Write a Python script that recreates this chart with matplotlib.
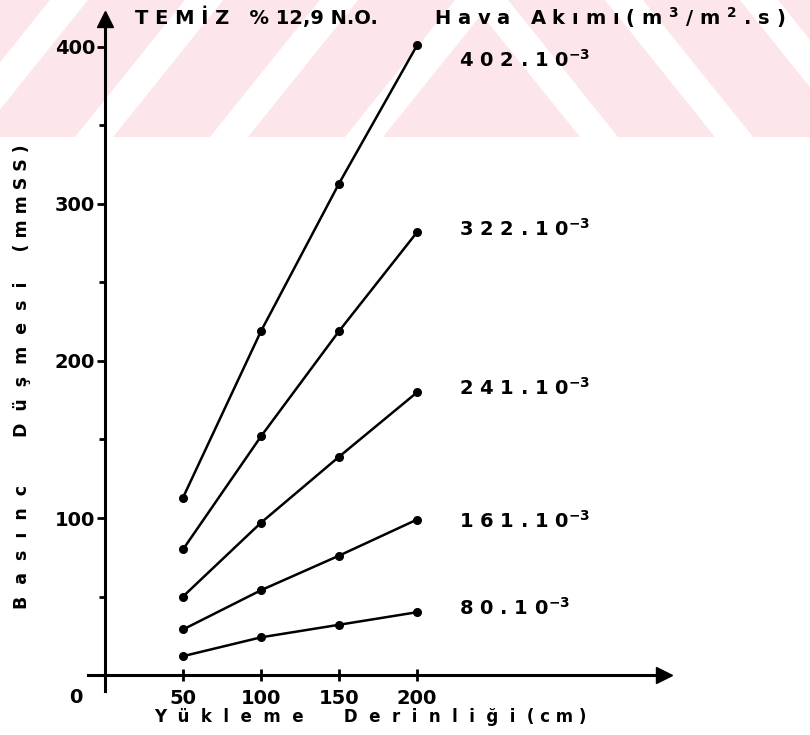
import numpy as np
import matplotlib
matplotlib.use("Agg")
import matplotlib.pyplot as plt
from matplotlib.patches import Polygon, Rectangle

# data
depth = [50, 100, 150, 200]
flow_labels = ["4 0 2", "3 2 2", "2 4 1", "1 6 1", "8 0"]
drop_402 = [113, 219, 313, 401]
drop_322 = [80, 152, 219, 282]
drop_241 = [50, 97, 139, 180]
drop_161 = [29, 54, 76, 99]
drop_80 = [12, 24, 32, 40]
series = [drop_402, drop_322, drop_241, drop_161, drop_80]
label_y = [392, 284, 183, 98, 43]

fig = plt.figure(figsize=(8.1, 7.35), dpi=100)

# faint pink watermark band at the top of the scan
wm = fig.add_axes([0, 0, 1, 1], zorder=0)
wm.set_xlim(0, 810)
wm.set_ylim(735, 0)
wm.axis("off")
pink = "#fce6ea"
wm.add_patch(Rectangle((0, 0), 810, 137, color=pink, lw=0))
for x0 in [-60, 75, 210, 345]:
    wm.add_patch(Polygon([(x0, 137), (x0 + 38, 137), (x0 + 148, 0), (x0 + 110, 0)],
                         color="white", lw=0))
for x0 in [470, 605, 740]:
    wm.add_patch(Polygon([(x0, 0), (x0 + 38, 0), (x0 + 148, 137), (x0 + 110, 137)],
                         color="white", lw=0))

ax = fig.add_axes([0, 0, 1, 1], zorder=1)
ax.patch.set_alpha(0)
ax.set_xlim(-67.3, 451.9)
ax.set_ylim(-38.2, 429.9)

for s in ["top", "right"]:
    ax.spines[s].set_visible(False)
ax.spines["left"].set_position(("data", 0))
ax.spines["bottom"].set_position(("data", 0))
ax.spines["left"].set_bounds(-10, 412)
ax.spines["bottom"].set_bounds(-11, 352)
ax.spines["left"].set_linewidth(2.2)
ax.spines["bottom"].set_linewidth(2.2)
ax.plot([0], [418], marker="^", color="black", ms=11, clip_on=False)
ax.plot([358], [0], marker=">", color="black", ms=11, clip_on=False)

ax.set_yticks([100, 200, 300, 400])
ax.set_yticks([50, 150, 250, 350], minor=True)
ax.set_xticks(depth)
ax.tick_params(axis="y", which="major", direction="out", length=6, width=2,
               labelsize=14, pad=1)
ax.tick_params(axis="y", which="minor", direction="out", length=4, width=2)
ax.tick_params(axis="x", direction="inout", length=8, width=2, labelsize=14, pad=6)
for t in ax.get_xticklabels() + ax.get_yticklabels():
    t.set_fontweight("bold")
ax.text(-19, -14, "0", fontsize=14, fontweight="bold", ha="center", va="center")

for vals, lab, ly in zip(series, flow_labels, label_y):
    ax.plot(depth, vals, color="black", lw=1.8, marker="o", ms=5.5)
    ax.text(227, ly, lab + r" . 1 0$^{\mathbf{-3}}$", fontsize=14, fontweight="bold",
            ha="left", va="center")

ax.text(19, 419, "T E M İ Z   % 12,9 N.O.", fontsize=14, fontweight="bold",
        ha="left", va="center")
ax.text(211, 419,
        r"H a v a   A k ı m ı ( m $^{\mathbf{3}}$ / m $^{\mathbf{2}}$ . s )",
        fontsize=14, fontweight="bold", ha="left", va="center")

ax.text(-53, 190, "B  a  s  ı  n  c        D  ü  ş  m  e  s  i     ( m m S S )",
        fontsize=12.5, fontweight="bold", rotation=90, ha="center", va="center")
ax.text(170, -27, "Y  ü  k  l  e  m  e       D  e  r  i  n  l  i  ğ  i  ( c m )",
        fontsize=12, fontweight="bold", ha="center", va="center")

fig.savefig("out.png", dpi=100)
